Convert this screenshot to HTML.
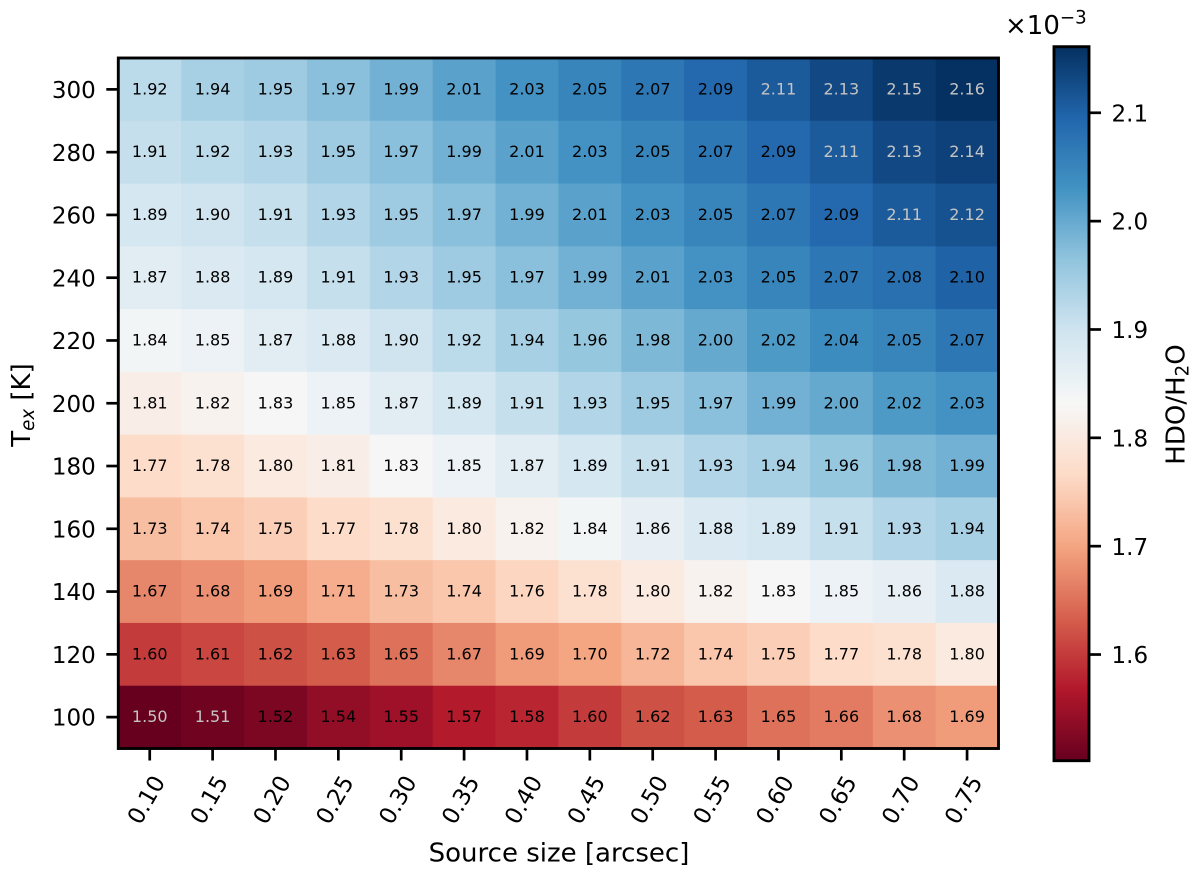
<!DOCTYPE html>
<html lang="en">
<head>
<meta charset="utf-8">
<title>HDO/H2O heatmap</title>
<style>
  html, body { margin: 0; padding: 0; background: #fff; }
  body { width: 1200px; height: 873px; overflow: hidden; }
  svg { display: block; font-family: "DejaVu Sans", "Liberation Sans", sans-serif; }
</style>
</head>
<body>
<svg id="chart" xmlns="http://www.w3.org/2000/svg" width="1200" height="873" viewBox="0 0 1200 873">
  <defs>
    <linearGradient id="cbar-gradient" x1="0" y1="1" x2="0" y2="0"></linearGradient>
  </defs>
  <g id="cells"></g>
  <g id="cell-labels"></g>
  <rect x="118.3" y="58" width="880.2" height="690.5" fill="none" stroke="#000" stroke-width="2.9"></rect>
  <g id="x-axis"></g>
  <g id="y-axis"></g>
  <text x="559" y="861.5" font-size="26" text-anchor="middle" fill="#000">Source size [arcsec]</text>
  <text transform="translate(30,405) rotate(-90)" font-size="26" text-anchor="middle" fill="#000">T<tspan font-size="18.2" dy="4" font-style="italic">ex</tspan><tspan dy="-4"> [K]</tspan></text>
  <rect x="1054" y="46.7" width="35" height="714" fill="url(#cbar-gradient)"></rect>
  <rect x="1054" y="46.7" width="35" height="714" fill="none" stroke="#000" stroke-width="2.9"></rect>
  <g id="cbar-axis"></g>
  <text transform="translate(1184.5,404.5) rotate(-90)" font-size="26" text-anchor="middle" fill="#000">HDO/H<tspan font-size="18.2" dy="4">2</tspan><tspan dy="-4">O</tspan></text>
  <text x="1005" y="34" font-size="26" fill="#000">×10<tspan font-size="18.2" dy="-10.5">−3</tspan></text>
</svg>
<script>
const sourceSizes = ["0.10","0.15","0.20","0.25","0.30","0.35","0.40","0.45","0.50","0.55","0.60","0.65","0.70","0.75"];
const temperatures = [300,280,260,240,220,200,180,160,140,120,100];
const values300 = [1.92,1.94,1.95,1.97,1.99,2.01,2.03,2.05,2.07,2.09,2.11,2.13,2.15,2.16];
const values280 = [1.91,1.92,1.93,1.95,1.97,1.99,2.01,2.03,2.05,2.07,2.09,2.11,2.13,2.14];
const values260 = [1.89,1.90,1.91,1.93,1.95,1.97,1.99,2.01,2.03,2.05,2.07,2.09,2.11,2.12];
const values240 = [1.87,1.88,1.89,1.91,1.93,1.95,1.97,1.99,2.01,2.03,2.05,2.07,2.08,2.10];
const values220 = [1.84,1.85,1.87,1.88,1.90,1.92,1.94,1.96,1.98,2.00,2.02,2.04,2.05,2.07];
const values200 = [1.81,1.82,1.83,1.85,1.87,1.89,1.91,1.93,1.95,1.97,1.99,2.00,2.02,2.03];
const values180 = [1.77,1.78,1.80,1.81,1.83,1.85,1.87,1.89,1.91,1.93,1.94,1.96,1.98,1.99];
const values160 = [1.73,1.74,1.75,1.77,1.78,1.80,1.82,1.84,1.86,1.88,1.89,1.91,1.93,1.94];
const values140 = [1.67,1.68,1.69,1.71,1.73,1.74,1.76,1.78,1.80,1.82,1.83,1.85,1.86,1.88];
const values120 = [1.60,1.61,1.62,1.63,1.65,1.67,1.69,1.70,1.72,1.74,1.75,1.77,1.78,1.80];
const values100 = [1.50,1.51,1.52,1.54,1.55,1.57,1.58,1.60,1.62,1.63,1.65,1.66,1.68,1.69];
const cbarTicks = [1.6,1.7,1.8,1.9,2.0,2.1];
const colorMin = 1.502;
const colorMax = 2.161;
const paletteStops = ["#67001f","#b2182b","#d6604d","#f4a582","#fddbc7","#f7f7f7","#d1e5f0","#92c5de","#4393c3","#2166ac","#053061"];

const grid = [values300,values280,values260,values240,values220,values200,values180,values160,values140,values120,values100];
const NS = "http://www.w3.org/2000/svg";
const plot = { left: 118.3, top: 58, width: 880.2, height: 690.5 };
const cbar = { right: 1089, top: 46.7, height: 714 };
const cellW = plot.width / sourceSizes.length;
const cellH = plot.height / temperatures.length;

function xScale(i) { return plot.left + (i + 0.5) * cellW; }
function yScale(i) { return plot.top + (i + 0.5) * cellH; }
function cbarScale(v) { return cbar.top + cbar.height * (colorMax - v) / (colorMax - colorMin); }
function hexToRgb(h) { return [1, 3, 5].map(function (k) { return parseInt(h.slice(k, k + 2), 16); }); }
function colorScale(v) {
  const t = Math.max(0, Math.min(1, (v - colorMin) / (colorMax - colorMin))) * (paletteStops.length - 1);
  const k = Math.min(paletteStops.length - 2, Math.floor(t));
  const a = hexToRgb(paletteStops[k]);
  const b = hexToRgb(paletteStops[k + 1]);
  const f = t - k;
  return "rgb(" + a.map(function (c, n) { return Math.round(c + (b[n] - c) * f); }).join(",") + ")";
}
function textColor(v) { return (v < 1.515 || v >= 2.105) ? "#c4c4c4" : "#000"; }
function make(tag, attrs, parent) {
  const el = document.createElementNS(NS, tag);
  Object.keys(attrs).forEach(function (k) { el.setAttribute(k, attrs[k]); });
  parent.appendChild(el);
  return el;
}

const cellsGroup = document.getElementById("cells");
const labelsGroup = document.getElementById("cell-labels");
grid.forEach(function (row, r) {
  row.forEach(function (v, c) {
    const rect = make("rect", { x: xScale(c) - cellW / 2, y: yScale(r) - cellH / 2, width: cellW + 0.4, height: cellH + 0.4, fill: colorScale(v) }, cellsGroup);
    
    
    const label = make("text", { x: xScale(c), y: yScale(r) + 5, "font-size": 16, "text-anchor": "middle", fill: textColor(v) }, labelsGroup);
    
    
    label.textContent = v.toFixed(2);
  });
});

const xAxis = document.getElementById("x-axis");
sourceSizes.forEach(function (s, i) {
  const x = xScale(i);
  const tick = make("line", { x1: x, x2: x, y1: plot.top + plot.height, y2: plot.top + plot.height + 12, stroke: "#000", "stroke-width": 2.7 }, xAxis);
  
  
  const label = make("text", { transform: "translate(" + (x - 4) + ",799.5) rotate(-60)", "font-size": 23, "text-anchor": "middle", y: 8.4, fill: "#000" }, xAxis);
  
  
  label.textContent = s;
});

const yAxis = document.getElementById("y-axis");
temperatures.forEach(function (t, i) {
  const y = yScale(i);
  const tick = make("line", { x1: plot.left - 12, x2: plot.left, y1: y, y2: y, stroke: "#000", "stroke-width": 2.7 }, yAxis);
  
  
  const label = make("text", { x: plot.left - 22.5, y: y + 8.6, "font-size": 23, "text-anchor": "end", fill: "#000" }, yAxis);
  
  
  label.textContent = String(t);
});

const gradient = document.getElementById("cbar-gradient");
paletteStops.forEach(function (c, i) {
  make("stop", { offset: i / (paletteStops.length - 1), "stop-color": c }, gradient);
});

const cbarAxis = document.getElementById("cbar-axis");
cbarTicks.forEach(function (v) {
  const y = cbarScale(v);
  const tick = make("line", { x1: cbar.right, x2: cbar.right + 12, y1: y, y2: y, stroke: "#000", "stroke-width": 2.7 }, cbarAxis);
  
  
  const label = make("text", { x: cbar.right + 22.5, y: y + 8.6, "font-size": 23, fill: "#000" }, cbarAxis);
  
  
  label.textContent = v.toFixed(1);
});
</script>
</body>
</html>
